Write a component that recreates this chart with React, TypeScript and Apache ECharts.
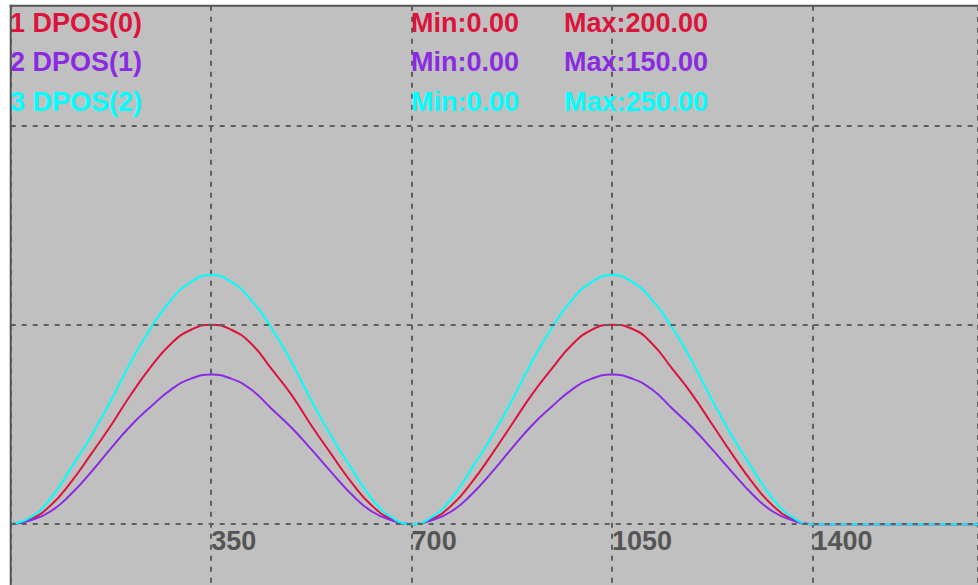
import React, { useEffect, useRef } from "react";
import * as echarts from "echarts";

// Tick labels on the x axis come from interval 350
const xTickInterval = 350;
const seriesNames = ["1 DPOS(0)", "2 DPOS(1)", "3 DPOS(2)"];
const minLabels = ["Min:0.00", "Min:0.00", "Min:0.00"];
const maxLabels = ["Max:200.00", "Max:150.00", "Max:250.00"];
const seriesColors = ["#DC143C", "#8A2BE2", "#00FFFF"];
const gridLevels = [0, 200, 400];

const sampleX = [
  0, 35, 70, 105, 140, 175, 210, 245, 280, 315, 350, 385, 420, 455, 490, 525, 560, 595, 630, 665, 700,
  735, 770, 805, 840, 875, 910, 945, 980, 1015, 1050, 1085, 1120, 1155, 1190, 1225, 1260, 1295, 1330, 1365, 1400,
  1689,
];
const redY = [
  0, 5, 19, 42, 70, 99, 130, 158, 181, 195, 200, 195, 181, 156, 130, 99, 70, 42, 19, 5, 0,
  5, 19, 42, 70, 100, 130, 156, 180, 195, 200, 196, 181, 156, 130, 100, 70, 42, 19, 5, 0,
  0,
];
const purpleY = [
  0, 4, 13, 30, 52, 76, 99, 118, 135, 146, 150, 146, 135, 116, 97, 75, 52, 30, 13, 4, 0,
  4, 13, 30, 52, 76, 99, 118, 135, 146, 150, 146, 135, 116, 97, 75, 52, 30, 13, 4, 0,
  0,
];
const cyanY = [
  0, 7, 26, 56, 88, 124, 163, 197, 225, 243, 250, 243, 225, 197, 163, 124, 88, 56, 26, 7, 0,
  7, 26, 56, 88, 124, 163, 197, 225, 243, 250, 243, 225, 197, 163, 124, 88, 56, 26, 7, 0,
  0,
];

const seriesY = [redY, purpleY, cyanY];

const FONT = "'Liberation Sans', Arial, sans-serif";
const GRID_COLOR = "#5f5f5f";
const DASH = [5, 6];

export default function App() {
  const ref = useRef<HTMLDivElement>(null);

  useEffect(() => {
    document.body.style.margin = "0";
    const chart = echarts.init(ref.current!, null, { renderer: "svg" });

    const lineSeries: any[] = seriesNames.map((name, i) => ({
      name,
      type: "line",
      data: sampleX.map((x, j) => [x, seriesY[i][j]]),
      showSymbol: false,
      smooth: 0.5,
      lineStyle: { color: seriesColors[i], width: 2 },
      itemStyle: { color: seriesColors[i] },
      z: 3,
    }));

    const gridSeries = {
      type: "line",
      data: [],
      z: 1,
      silent: true,
      markLine: {
        silent: true,
        symbol: ["none", "none"],
        label: { show: false },
        lineStyle: { color: GRID_COLOR, type: DASH, width: 2 },
        data: gridLevels.map((v) => ({ yAxis: v })),
      },
    };

    const texts: any[] = [];
    const rowY = [23, 62, 102];
    seriesNames.forEach((n, i) => {
      const base = {
        type: "text",
        z: 10,
        style: {
          fill: seriesColors[i],
          font: `bold 27px ${FONT}`,
          verticalAlign: "middle",
        },
      };
      texts.push({ ...base, style: { ...base.style, text: n, x: 10, y: rowY[i] } });
      texts.push({ ...base, style: { ...base.style, text: minLabels[i], x: 411, y: rowY[i] } });
      texts.push({ ...base, style: { ...base.style, text: maxLabels[i], x: 564, y: rowY[i] } });
    });

    chart.setOption({
      animation: false,
      backgroundColor: "#ffffff",
      grid: {
        left: 10.7,
        top: 5.7,
        right: 0,
        bottom: 0,
        show: true,
        backgroundColor: "#C0C0C0",
        borderWidth: 0,
      },
      xAxis: {
        type: "value",
        min: 0,
        max: 1689,
        interval: xTickInterval,
        position: "bottom",
        offset: -60.7,
        axisLine: { show: false, onZero: false },
        axisTick: { show: false },
        splitLine: { show: true, lineStyle: { color: GRID_COLOR, type: DASH, width: 2 } },
        axisLabel: {
          show: true,
          color: "#555555",
          fontSize: 27,
          fontWeight: "bold",
          fontFamily: FONT,
          align: "left",
          verticalAlign: "top",
          margin: 3,
          showMinLabel: false,
          showMaxLabel: false,
          formatter: (v: number) => String(v),
        },
      },
      yAxis: {
        type: "value",
        min: -61,
        max: 520,
        axisLine: { show: false },
        axisTick: { show: false },
        axisLabel: { show: false },
        splitLine: { show: false },
      },
      series: [gridSeries, ...lineSeries],
      graphic: [
        { type: "rect", z: 20, shape: { x: 9.7, y: 4.7, width: 2, height: 590 }, style: { fill: "#555555" } },
        { type: "rect", z: 20, shape: { x: 9.7, y: 4.7, width: 980, height: 2 }, style: { fill: "#555555" } },
        ...texts,
      ],
    });

    return () => chart.dispose();
  }, []);

  return <div ref={ref} style={{ width: 978, height: 585 }} />;
}
